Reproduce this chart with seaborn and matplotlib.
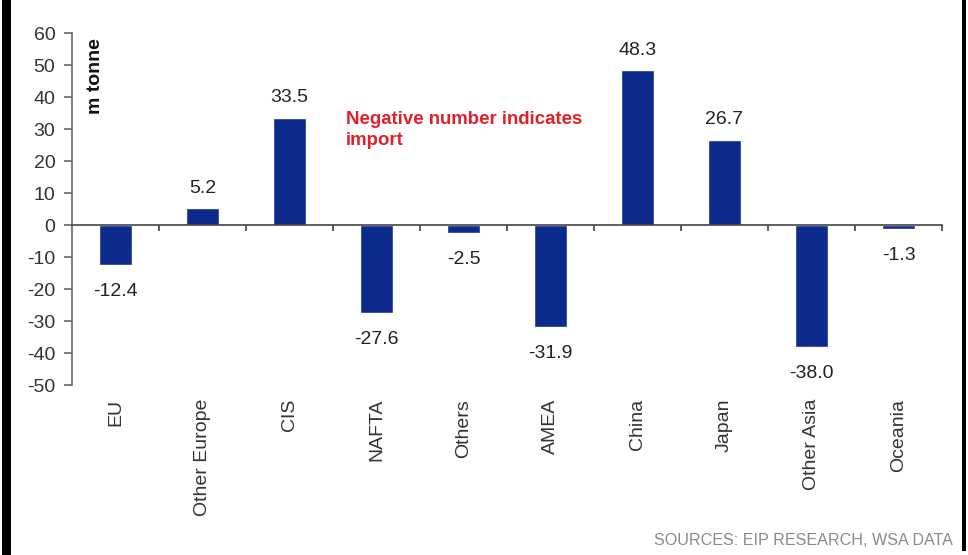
import matplotlib
matplotlib.use("Agg")
import matplotlib.pyplot as plt
from matplotlib.patches import Rectangle
import seaborn as sns
import pandas as pd
import numpy as np

categories = ["EU", "Other Europe", "CIS", "NAFTA", "Others", "AMEA",
              "China", "Japan", "Other Asia", "Oceania"]
values = [-12.4, 5.2, 33.5, -27.6, -2.5, -31.9, 48.3, 26.7, -38.0, -1.3]
y_ticks = [60, 50, 40, 30, 20, 10, 0, -10, -20, -30, -40, -50]

sns.set_theme(style="white")
plt.rcParams['font.family'] = ['Liberation Sans', 'DejaVu Sans']
plt.rcParams['axes.unicode_minus'] = False

df = pd.DataFrame({"region": categories, "value": values})

fig = plt.figure(figsize=(9.68, 5.55), dpi=100)
ax = fig.add_axes([72/968, 170/555, 870/968, 352/555])

bar_color = "#0c2b8d"
sns.barplot(data=df, x="region", y="value", order=categories, color=bar_color,
            width=0.39, saturation=1, ax=ax)

ax.set_xlim(-0.5, len(categories) - 0.5)
ax.set_ylim(-50, 60)
ax.set_yticks(y_ticks)
ax.set_xlabel("")
ax.set_ylabel("")

axis_col = "#666666"
for s in ["top", "right"]:
    ax.spines[s].set_visible(False)
ax.spines["left"].set_color(axis_col)
ax.spines["left"].set_linewidth(1.2)
ax.spines["bottom"].set_position(("data", 0))
ax.spines["bottom"].set_color("#444444")
ax.spines["bottom"].set_linewidth(1.2)

ax.tick_params(axis="y", which="major", direction="out", length=6, width=1.2,
               color=axis_col, labelsize=14, labelcolor="#333333", pad=6, left=True)
# x ticks on zero line at category boundaries
ax.set_xticks(np.arange(len(categories)) + 0.5)
ax.set_xticklabels([])
ax.tick_params(axis="x", which="major", direction="out", length=4, width=1.2,
               color="#444444", bottom=True)

# category labels at bottom of axes
sec = ax.secondary_xaxis(0)
sec.set_xticks(np.arange(len(categories)))
sec.set_xticklabels(categories, rotation=90, fontsize=14, color="#333333")
sec.tick_params(length=0, pad=10)
sec.spines["bottom"].set_visible(False)

# value labels
for i, v in enumerate(values):
    if v >= 0:
        ax.annotate(f"{v:.1f}", (i, v), xytext=(0, 8.5), textcoords="offset points",
                    ha="center", va="bottom", fontsize=14, color="#222222")
    else:
        ax.annotate(f"{v:.1f}", (i, v), xytext=(0, -13), textcoords="offset points",
                    ha="center", va="top", fontsize=14, color="#222222")

ax.text(0.027, 0.985, "m tonne", transform=ax.transAxes, rotation=90,
        ha="center", va="top", fontsize=14, fontweight="bold", color="#111111")

ax.text(346/968, (555-111)/555, "Negative number indicates\nimport",
        transform=fig.transFigure, ha="left", va="top", fontsize=13.4,
        fontweight="bold", color="#e0202a", linespacing=1.3)

fig.text(953/968, 7/555, "SOURCES: EIP RESEARCH, WSA DATA", ha="right", va="bottom",
         fontsize=11.6, color="#8a8a8a")

fig.patches.append(Rectangle((2/968, 0), 9/968, 1, transform=fig.transFigure,
                             facecolor="black", edgecolor="none"))
fig.patches.append(Rectangle((962/968, 4/555), 4/968, 1, transform=fig.transFigure,
                             facecolor="black", edgecolor="none"))

fig.savefig("out.png", dpi=100)
